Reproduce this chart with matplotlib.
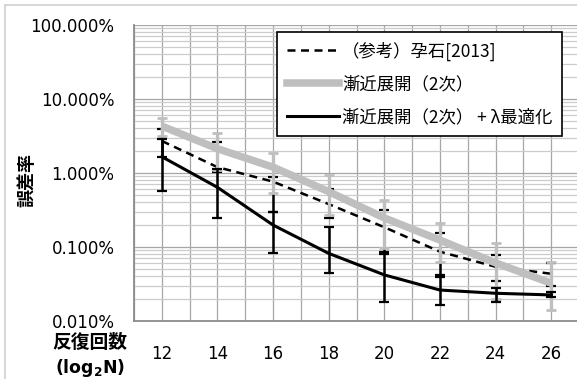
import matplotlib
matplotlib.use('Agg')
import matplotlib.pyplot as plt
from matplotlib.lines import Line2D
from matplotlib.ticker import FixedLocator, NullFormatter
import numpy as np

plt.rcParams['font.family'] = ['Noto Sans CJK JP', 'DejaVu Sans']

# iterations (log2 N)
iters = [12, 14, 16, 18, 20, 22, 24, 26]

# error rate [%] and error-bar bounds for each method
ref_rate = [2.71, 1.20, 0.764, 0.38, 0.185, 0.0865, 0.054, 0.0435]
ref_lo = [1.66, 1.03, 0.30, 0.25, 0.0855, 0.042, 0.035, 0.030]
ref_hi = [3.90, 2.65, 0.89, 0.60, 0.316, 0.153, 0.078, 0.060]

asym_rate = [4.3, 2.13, 1.20, 0.56, 0.247, 0.124, 0.061, 0.0324]
asym_lo = [3.2, 1.1, 0.54, 0.27, 0.097, 0.063, 0.020, 0.0141]
asym_hi = [5.5, 3.44, 1.85, 0.94, 0.43, 0.21, 0.113, 0.0632]

opt_rate = [1.66, 0.64, 0.198, 0.082, 0.042, 0.0262, 0.0237, 0.0225]
opt_lo = [0.58, 0.245, 0.082, 0.045, 0.0182, 0.0164, 0.0182, 0.0208]
opt_hi = [2.84, 1.135, 0.30, 0.188, 0.080, 0.039, 0.0277, 0.0245]

labels = ['（参考）孕石[2013]', '漸近展開（2次）', '漸近展開（2次） + λ最適化']
ytick_vals = [0.01, 0.1, 1, 10, 100]

GRAY = '#bfbfbf'

fig = plt.figure(figsize=(5.77, 3.79), dpi=100)

# chart area border (left and top edges)
fig.add_artist(Line2D([5 / 577, 5 / 577], [0, 1 - 5 / 379], color='#d0d0d0', lw=1.2))
fig.add_artist(Line2D([5 / 577, 1], [1 - 5 / 379, 1 - 5 / 379], color='#d0d0d0', lw=1.2))

ax = fig.add_axes([134 / 577, 1 - 321 / 379, 445 / 577, 296 / 379])
x = np.arange(len(iters))


def bars(rate, lo, hi):
    r = np.array(rate)
    return [r - np.array(lo), np.array(hi) - r]


ax.errorbar(x, ref_rate, yerr=bars(ref_rate, ref_lo, ref_hi), fmt='none',
            ecolor='black', elinewidth=1.8, capsize=3.4, capthick=1.6, zorder=3)
ax.plot(x, ref_rate, color='black', lw=1.8, dashes=(3.2, 2.2), zorder=3)

ax.errorbar(x, asym_rate, yerr=bars(asym_rate, asym_lo, asym_hi), fmt='none',
            ecolor=GRAY, elinewidth=2.4, capsize=3.4, capthick=2.0, zorder=4)
ax.plot(x, asym_rate, color=GRAY, lw=5.4, solid_capstyle='butt', zorder=4)

ax.errorbar(x, opt_rate, yerr=bars(opt_rate, opt_lo, opt_hi), fmt='none',
            ecolor='black', elinewidth=1.8, capsize=3.4, capthick=1.6, zorder=5)
ax.plot(x, opt_rate, color='black', lw=2.2, zorder=5)

ax.set_yscale('log')
ax.set_ylim(0.01, 100)
ax.set_xlim(-0.5, 7.5)
ax.yaxis.set_major_locator(FixedLocator(ytick_vals))
ax.yaxis.set_minor_locator(FixedLocator(
    [m * 10.0 ** e for e in range(-2, 2) for m in range(2, 10)]))
ax.yaxis.set_minor_formatter(NullFormatter())
ax.set_yticklabels(['%.3f%%' % v for v in ytick_vals], family='DejaVu Sans', fontsize=12)
ax.set_xticks(x)
ax.set_xticklabels([str(i) for i in iters], family='DejaVu Sans', fontsize=12)
ax.xaxis.set_minor_locator(FixedLocator(np.arange(-0.5, 8, 1)))

ax.tick_params(which='both', length=0)
ax.tick_params(axis='y', pad=14)
ax.tick_params(axis='x', pad=17)
ax.grid(which='major', color='#a6a6a6', lw=0.9)
ax.grid(which='minor', axis='y', color='#cccccc', lw=0.9)
ax.grid(which='minor', axis='x', color='#a6a6a6', lw=0.9)
ax.set_axisbelow(True)
for s in ['top', 'right']:
    ax.spines[s].set_visible(False)
for s in ['left', 'bottom']:
    ax.spines[s].set_color('#8c8c8c')
    ax.spines[s].set_linewidth(1.3)

fig.text(27 / 577, 1 - 180 / 379, '誤差率', rotation=90, ha='center', va='center',
         fontsize=13, fontweight='bold')
fig.text(90 / 577, 1 - 343 / 379, '反復回数', ha='center', va='center',
         fontsize=13.5, fontweight='bold')
fig.text(90 / 577, 1 - 368 / 379, r'(log$_\mathbf{2}$N)', ha='center', va='center',
         fontsize=12.5, fontweight='bold', family='DejaVu Sans')

handles = [
    Line2D([], [], color='black', lw=1.8, dashes=(3.2, 2.2)),
    Line2D([], [], color=GRAY, lw=5.4),
    Line2D([], [], color='black', lw=2.2),
]
leg = ax.legend(handles, labels, loc='upper right', bbox_to_anchor=(428 / 445, 1 - 7 / 296),
                fontsize=12.5, frameon=True, fancybox=False, framealpha=1,
                edgecolor='black', handlelength=3.0, handletextpad=0.2,
                labelspacing=0.85, borderpad=0.55, borderaxespad=0)
leg.get_frame().set_linewidth(1.2)
leg.set_zorder(10)

fig.savefig('out.png', dpi=100)
